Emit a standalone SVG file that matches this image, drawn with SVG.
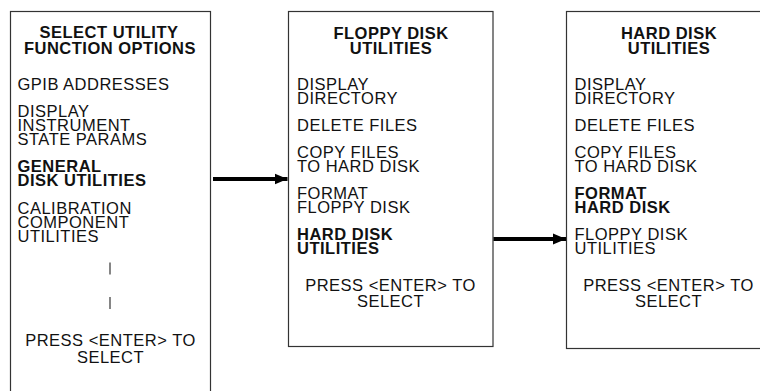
<svg xmlns="http://www.w3.org/2000/svg" width="760" height="391" viewBox="0 0 760 391">
<style>
.box{fill:#fff;stroke:#333;stroke-width:1.2}
text{font-family:"Liberation Sans",Arial,sans-serif;font-size:16.5px;letter-spacing:0.5px;fill:#111}
.b{font-weight:bold}
.c{text-anchor:middle}
.conn{stroke:#000;stroke-width:4;fill:none}
.bar{stroke:#222;stroke-width:1.1}
</style>
<defs>
<marker id="ah" markerUnits="userSpaceOnUse" markerWidth="14" markerHeight="12" refX="13" refY="6" orient="auto">
<path d="M0,0.5 L13,6 L0,11.5 Z" fill="#000"/>
</marker>
</defs>
<rect width="760" height="391" fill="#fff"/>
<g id="node-select-utility">
<rect class="box" x="10.5" y="11.5" width="200" height="390"/>
<text class="b c"><tspan x="109" y="38">SELECT UTILITY</tspan><tspan x="110" y="53.5">FUNCTION OPTIONS</tspan></text>
<text x="17.5" y="90">GPIB ADDRESSES</text>
<text><tspan x="17.5" y="117">DISPLAY</tspan><tspan x="17.5" y="131">INSTRUMENT</tspan><tspan x="17.5" y="145">STATE PARAMS</tspan></text>
<text class="b"><tspan x="17.5" y="172">GENERAL</tspan><tspan x="17.5" y="186">DISK UTILITIES</tspan></text>
<text><tspan x="17.5" y="214">CALIBRATION</tspan><tspan x="17.5" y="228">COMPONENT</tspan><tspan x="17.5" y="242">UTILITIES</tspan></text>
<line class="bar" x1="110" y1="262.5" x2="110" y2="274.5"/>
<line class="bar" x1="110" y1="297" x2="110" y2="309"/>
<text class="c"><tspan x="110.5" y="346">PRESS &lt;ENTER&gt; TO</tspan><tspan x="110.5" y="363">SELECT</tspan></text>
</g>
<g id="node-floppy">
<rect class="box" x="288.5" y="11.5" width="204.5" height="335"/>
<text class="b c"><tspan x="391" y="39">FLOPPY DISK</tspan><tspan x="391" y="54">UTILITIES</tspan></text>
<text><tspan x="297" y="90">DISPLAY</tspan><tspan x="297" y="104">DIRECTORY</tspan></text>
<text x="297" y="131">DELETE FILES</text>
<text><tspan x="297" y="158">COPY FILES</tspan><tspan x="297" y="172">TO HARD DISK</tspan></text>
<text><tspan x="297" y="199">FORMAT</tspan><tspan x="297" y="213">FLOPPY DISK</tspan></text>
<text class="b"><tspan x="297" y="240">HARD DISK</tspan><tspan x="297" y="254">UTILITIES</tspan></text>
<text class="c"><tspan x="390.5" y="290.5">PRESS &lt;ENTER&gt; TO</tspan><tspan x="390.5" y="306.5">SELECT</tspan></text>
</g>
<g id="node-hard">
<rect class="box" x="566.5" y="11.5" width="205" height="337"/>
<text class="b c"><tspan x="669" y="39">HARD DISK</tspan><tspan x="669" y="54">UTILITIES</tspan></text>
<text><tspan x="574.5" y="90">DISPLAY</tspan><tspan x="574.5" y="104">DIRECTORY</tspan></text>
<text x="574.5" y="131">DELETE FILES</text>
<text><tspan x="574.5" y="158">COPY FILES</tspan><tspan x="574.5" y="172">TO HARD DISK</tspan></text>
<text class="b"><tspan x="574.5" y="199">FORMAT</tspan><tspan x="574.5" y="213">HARD DISK</tspan></text>
<text><tspan x="574.5" y="240">FLOPPY DISK</tspan><tspan x="574.5" y="254">UTILITIES</tspan></text>
<text class="c"><tspan x="668.5" y="290.5">PRESS &lt;ENTER&gt; TO</tspan><tspan x="668.5" y="306.5">SELECT</tspan></text>
</g>
<g id="connectors">
<line class="conn" x1="213" y1="179" x2="287.5" y2="179" marker-end="url(#ah)"/>
<line class="conn" x1="493.5" y1="239" x2="566" y2="239" marker-end="url(#ah)"/>
</g>
</svg>
